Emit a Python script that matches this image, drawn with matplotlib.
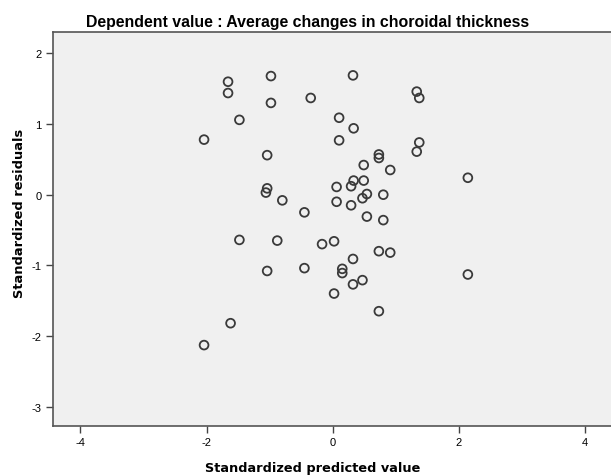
import matplotlib
matplotlib.use("Agg")
import matplotlib.pyplot as plt

predicted = [-1.66, -1.66, -0.98, 0.32, -0.98, -0.35, 1.33, 1.37, -1.48, 0.10,
             0.33, -2.04, 0.10, 1.37, 1.33,
             -1.04, 0.73, 0.73, 0.49, 0.91, 2.14, 0.33, 0.49, -1.04, -1.06,
             0.06, 0.29, 0.54, 0.80, 0.47, -0.80, 0.06, 0.29, -0.45, 0.54,
             0.80, -1.48, -0.88, 0.02, -0.17, 0.73, 0.91, 0.32, -0.45, -1.04,
             0.15, 0.15, 2.14, 0.47, 0.32, 0.02, 0.73,
             -1.62, -2.04]
residuals = [1.60, 1.44, 1.68, 1.69, 1.30, 1.37, 1.46, 1.37, 1.06, 1.09,
             0.94, 0.78, 0.77, 0.74, 0.61,
             0.56, 0.57, 0.52, 0.42, 0.35, 0.24, 0.20, 0.20, 0.09, 0.03,
             0.11, 0.12, 0.01, 0.00, -0.05, -0.08, -0.10, -0.15, -0.25, -0.31,
             -0.36, -0.64, -0.65, -0.66, -0.70, -0.80, -0.82, -0.91, -1.04, -1.08,
             -1.05, -1.11, -1.13, -1.21, -1.27, -1.40, -1.65,
             -1.82, -2.13]

x_ticks = [-4, -2, 0, 2, 4]
y_ticks = [-3, -2, -1, 0, 1, 2]
title = "Dependent value : Average changes in choroidal thickness"
xlabel = "Standardized predicted value"
ylabel = "Standardized residuals"

fig = plt.figure(figsize=(6.11, 4.77), dpi=100)
ax = fig.add_axes([52.6/611, 1 - 427.3/477, (613 - 52.6)/611, (427.3 - 33.3)/477])
ax.set_facecolor("#f0f0f0")
ax.scatter(predicted, residuals, s=40, facecolors="none", edgecolors="#3a3a3a",
           linewidths=1.3, zorder=3)
ax.set_xlim(-4.44, 4.44)
ax.set_ylim(-3.28, 2.30)
ax.set_xticks(x_ticks)
ax.set_yticks(y_ticks)
ax.set_xticklabels([str(v) for v in x_ticks], family="Liberation Sans", fontsize=8)
ax.set_yticklabels([str(v) for v in y_ticks], family="Liberation Sans", fontsize=8)
ax.tick_params(direction="out", length=5, width=1, color="#444444", pad=3)
for s in ax.spines.values():
    s.set_color("#555555")
    s.set_linewidth(1.2)
ax.spines["right"].set_visible(False)

fig.text(308/611, 1 - 23/477, title, ha="center", va="center",
         family="Liberation Sans", weight="bold", fontsize=11.4)
fig.text(313/611, 1 - 469/477, xlabel, ha="center", va="center",
         family="DejaVu Sans", weight="bold", fontsize=9.3)
fig.text(20/611, 1 - 213/477, ylabel, ha="center", va="center", rotation=90,
         family="DejaVu Sans", weight="bold", fontsize=9.4)

fig.savefig("out.png", dpi=100)
